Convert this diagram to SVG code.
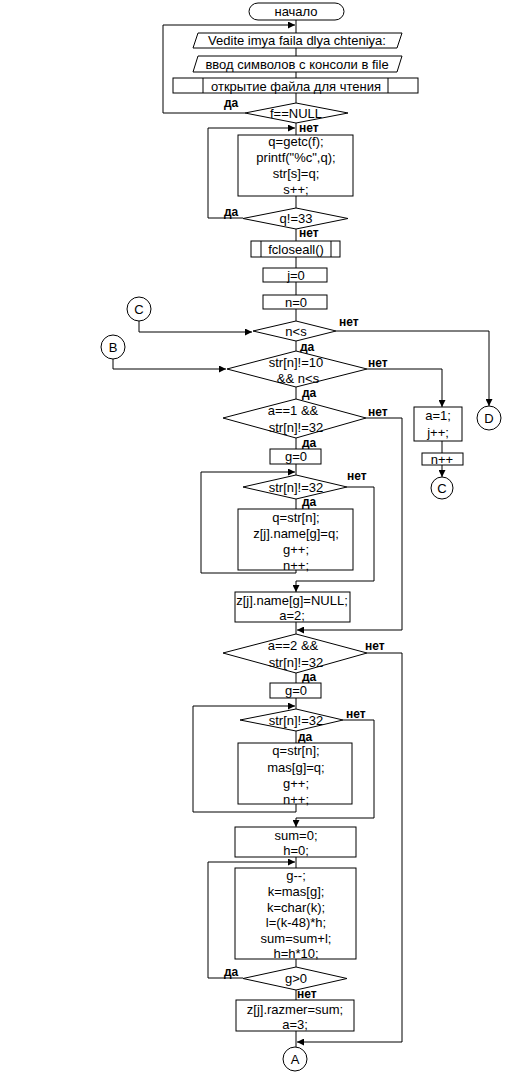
<svg xmlns="http://www.w3.org/2000/svg" width="518" height="1076" viewBox="0 0 518 1076">
<style>
.s{fill:#fff;stroke:#000;stroke-width:1}
.c{fill:none;stroke:#000;stroke-width:1}
.t{font-family:"Liberation Sans",Arial,sans-serif;font-size:13px;text-anchor:middle;fill:#000}
.l{font-family:"Liberation Sans",Arial,sans-serif;font-size:12px;font-weight:bold;fill:#000}
</style>
<defs>
<marker id="a" viewBox="0 0 8 8" refX="8" refY="4" markerWidth="7" markerHeight="7" markerUnits="userSpaceOnUse" orient="auto"><path d="M0,0 L8,4 L0,8 Z" fill="#000"/></marker>
</defs>
<rect width="518" height="1076" fill="#fff"/>
<g id="connectors">
<path class="c" d="M296,20V33M296,48V56M296,72V78M296,93V103M296,123V135M296,196V208M296,229V241M296,257V268M296,282V295M296,309V321M296,341V351M296,387V399M296,438V449M296,464V475M296,499V509M296,622V634M296,673V683M296,698V709M296,731V743M296,857V868M296,959V967M296,990V1000M296,1031V1047M442,441V453"/>
<path class="c" d="M245,113H163V25H295" marker-end="url(#a)"/>
<path class="c" d="M243,218H208V128H295" marker-end="url(#a)"/>
<path class="c" d="M139,321V332H252" marker-end="url(#a)"/>
<path class="c" d="M113,359V369H226" marker-end="url(#a)"/>
<path class="c" d="M336,331H489V406" marker-end="url(#a)"/>
<path class="c" d="M367,369H442V407" marker-end="url(#a)"/>
<path class="c" d="M442,465V477" marker-end="url(#a)"/>
<path class="c" d="M366,418H402V630H297" marker-end="url(#a)"/>
<path class="c" d="M296,570V573H201V472H295" marker-end="url(#a)"/>
<path class="c" d="M347,487H374V581H296V592" marker-end="url(#a)"/>
<path class="c" d="M367,653H402V1042H297" marker-end="url(#a)"/>
<path class="c" d="M296,804V812H193V706H295" marker-end="url(#a)"/>
<path class="c" d="M343,720H374V818H296V827" marker-end="url(#a)"/>
<path class="c" d="M243,978H208V862H295" marker-end="url(#a)"/>
</g>
<g id="start"><rect class="s" x="249" y="3" width="95" height="17" rx="9"/><text class="t" x="296" y="16">начало</text></g>
<g id="input1"><polygon class="s" points="198,33 402,33 397,48 193,48"/><text class="t" x="297" y="45">Vedite imya faila dlya chteniya:</text></g>
<g id="input2"><polygon class="s" points="198,56 402,56 397,72 193,72"/><text class="t" x="297" y="68.5">ввод символов с консоли в file</text></g>
<g id="open"><rect class="s" x="173" y="78" width="245" height="15"/><path class="c" d="M203,78V93M388,78V93"/><text class="t" x="296" y="90.5">открытие файла для чтения</text></g>
<g id="dec-null"><polygon class="s" points="296,103 348,113 296,123 245,113"/><text class="t" x="296" y="117.5">f==NULL</text><text class="l" x="224" y="107">да</text><text class="l" x="299" y="132">нет</text></g>
<g id="read"><rect class="s" x="238" y="135" width="115" height="61"/><text class="t" x="296" y="145.5">q=getc(f);</text><text class="t" x="296" y="161.5">printf("%c",q);</text><text class="t" x="296" y="177.5">str[s]=q;</text><text class="t" x="296" y="193.5">s++;</text></g>
<g id="dec-33"><polygon class="s" points="296,208 348,218.5 296,229 243,218.5"/><text class="t" x="296" y="223">q!=33</text><text class="l" x="224" y="216">да</text><text class="l" x="299" y="237">нет</text></g>
<g id="fclose"><rect class="s" x="251" y="241" width="89" height="16"/><path class="c" d="M261,241V257M331,241V257"/><text class="t" x="296" y="253.5">fcloseall()</text></g>
<g id="j0"><rect class="s" x="263" y="268" width="64" height="14"/><text class="t" x="296" y="279.5">j=0</text></g>
<g id="n0"><rect class="s" x="263" y="295" width="64" height="14"/><text class="t" x="296" y="306.5">n=0</text></g>
<g id="cC1"><circle class="s" cx="139" cy="309" r="12"/><text class="t" x="139" y="313.5">C</text></g>
<g id="cB"><circle class="s" cx="113" cy="347" r="12"/><text class="t" x="113" y="351.5">B</text></g>
<g id="dec-ns"><polygon class="s" points="296,321 336,331 296,341 253,331"/><text class="t" x="296" y="335.5">n&lt;s</text><text class="l" x="339" y="326">нет</text><text class="l" x="300" y="351">да</text></g>
<g id="dec-10"><polygon class="s" points="296,351 367,369 296,387 227,369"/><text class="t" x="296" y="366.5">str[n]!=10</text><text class="t" x="298" y="382.5">&amp;&amp; n&lt;s</text><text class="l" x="368" y="367">нет</text><text class="l" x="302" y="397">да</text></g>
<g id="dec-a1"><polygon class="s" points="296,399 366,418 296,438 223,418"/><text class="t" x="293" y="414.5">a==1 &amp;&amp;</text><text class="t" x="296" y="431.5">str[n]!=32</text><text class="l" x="368" y="416">нет</text><text class="l" x="302" y="447">да</text></g>
<g id="cD"><circle class="s" cx="489" cy="418" r="12"/><text class="t" x="489" y="422.5">D</text></g>
<g id="a1j"><rect class="s" x="414" y="407" width="48" height="34"/><text class="t" x="438" y="419.5">a=1;</text><text class="t" x="438" y="436.5">j++;</text></g>
<g id="npp"><rect class="s" x="422" y="453" width="41" height="12"/><text class="t" x="442" y="463.5">n++</text></g>
<g id="cC2"><circle class="s" cx="442" cy="488" r="11"/><text class="t" x="442" y="492.5">C</text></g>
<g id="g0a"><rect class="s" x="270" y="449" width="51" height="15"/><text class="t" x="296" y="461">g=0</text></g>
<g id="dec-32a"><polygon class="s" points="296,475 347,487 296,499 243,487"/><text class="t" x="296" y="491.5">str[n]!=32</text><text class="l" x="347" y="480">нет</text><text class="l" x="302" y="506">да</text></g>
<g id="name"><rect class="s" x="238" y="509" width="115" height="61"/><text class="t" x="296" y="521.5">q=str[n];</text><text class="t" x="296" y="537.5">z[j].name[g]=q;</text><text class="t" x="296" y="554">g++;</text><text class="t" x="296" y="569.5">n++;</text></g>
<g id="namenull"><rect class="s" x="235" y="592" width="115" height="30"/><text class="t" x="292" y="604.5">z[j].name[g]=NULL;</text><text class="t" x="292" y="619.5">a=2;</text></g>
<g id="dec-a2"><polygon class="s" points="296,634 367,653 296,673 223,653"/><text class="t" x="293" y="649.5">a==2 &amp;&amp;</text><text class="t" x="296" y="666.5">str[n]!=32</text><text class="l" x="365" y="650">нет</text><text class="l" x="302" y="681">да</text></g>
<g id="g0b"><rect class="s" x="270" y="683" width="51" height="15"/><text class="t" x="296" y="695">g=0</text></g>
<g id="dec-32b"><polygon class="s" points="296,709 343,720 296,731 240,720"/><text class="t" x="296" y="724.5">str[n]!=32</text><text class="l" x="346" y="718">нет</text><text class="l" x="298" y="741">да</text></g>
<g id="mas"><rect class="s" x="238" y="743" width="114" height="61"/><text class="t" x="296" y="754.5">q=str[n];</text><text class="t" x="296" y="771.5">mas[g]=q;</text><text class="t" x="296" y="787.5">g++;</text><text class="t" x="296" y="803.5">n++;</text></g>
<g id="sum0"><rect class="s" x="235" y="827" width="121" height="30"/><text class="t" x="296" y="839.5">sum=0;</text><text class="t" x="296" y="854.5">h=0;</text></g>
<g id="calc"><rect class="s" x="235" y="868" width="121" height="91"/><text class="t" x="296" y="879.5">g--;</text><text class="t" x="296" y="895.5">k=mas[g];</text><text class="t" x="296" y="911.5">k=char(k);</text><text class="t" x="296" y="927">l=(k-48)*h;</text><text class="t" x="296" y="942.5">sum=sum+l;</text><text class="t" x="296" y="957.5">h=h*10;</text></g>
<g id="dec-g"><polygon class="s" points="296,967 347,978.5 296,990 243,978.5"/><text class="t" x="296" y="983">g&gt;0</text><text class="l" x="224" y="976">да</text><text class="l" x="297" y="998">нет</text></g>
<g id="razmer"><rect class="s" x="236" y="1000" width="118" height="31"/><text class="t" x="295" y="1013.5">z[j].razmer=sum;</text><text class="t" x="295" y="1028.5">a=3;</text></g>
<g id="cA"><circle class="s" cx="295" cy="1059" r="12"/><text class="t" x="295" y="1064">A</text></g>
</svg>
